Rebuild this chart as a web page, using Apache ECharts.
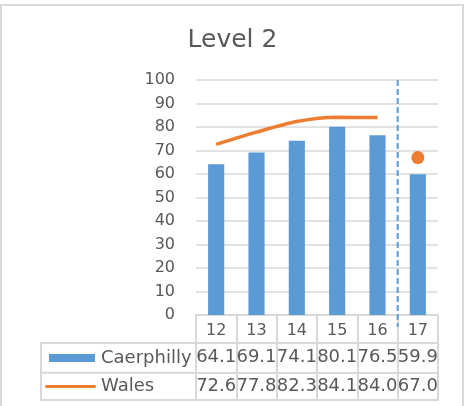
<!DOCTYPE html>
<html>
<head>
<meta charset="utf-8">
<script src="https://cdn.jsdelivr.net/npm/echarts@6/dist/echarts.min.js"></script>
<style>
  html, body { margin: 0; padding: 0; background: #fff; }
  #chart { width: 465px; height: 406px; }
</style>
</head>
<body>
<div id="chart"></div>
<script>
/* 数据 */
const years = ['12', '13', '14', '15', '16', '17']
const caerphilly = [64.1, 69.1, 74.1, 80.1, 76.5, 59.9]
const wales = [72.6, 77.8, 82.3, 84.1, 84.0, 67.0]
const yTicks = [0, 10, 20, 30, 40, 50, 60, 70, 80, 90, 100]
const forecastStart = 5 // 虚线位置：第5个类目之后

const textColor = '#595959'
const borderColor = '#D9D9D9'
const blue = '#5B9BD5'
const orange = '#ED7D31'
const font = 'DejaVu Sans'

// 实线部分与单独的点
const walesLine = wales.map((v, i) => (i < forecastStart ? v : '-'))
const walesDot = wales.map((v, i) => (i >= forecastStart ? v : '-'))

// 表格行用的轴
function tableAxis(data, offset, tickLen, showLabel) {
  return {
    type: 'category',
    data: data,
    position: 'bottom',
    offset: offset,
    axisLine: { show: true, lineStyle: { color: borderColor, width: 2 } },
    axisTick: { show: tickLen > 0, interval: 0, length: tickLen, lineStyle: { color: borderColor, width: 2 } },
    axisLabel: { show: showLabel, interval: 0, color: textColor, fontSize: 18, fontFamily: font, margin: 5 },
    splitLine: { show: false }
  }
}

const chart = echarts.init(document.getElementById('chart'))
chart.setOption({
  animation: false,
  title: {
    text: 'Level 2',
    left: 'center',
    top: 23,
    textStyle: { color: textColor, fontSize: 25, fontWeight: 'normal', fontFamily: font }
  },
  legend: {
    orient: 'vertical',
    left: 45,
    top: 348,
    padding: 0,
    itemWidth: 51,
    itemHeight: 10,
    itemGap: 8.5,
    textStyle: { color: textColor, fontSize: 18, fontFamily: font, lineHeight: 20 },
    data: [
      { name: 'Caerphilly', icon: 'path://M0,0 M51,10 M4,1 h46 v8 h-46 z' },
      { name: 'Wales', icon: 'path://M0,0 M51,10 M1.5,3.5 h48 a1.5,1.5 0 0 1 0,3 h-48 a1.5,1.5 0 0 1 0,-3 z' }
    ]
  },
  grid: { left: 196, right: 27, top: 80, bottom: 91 },
  xAxis: [
    {
      type: 'category',
      data: years,
      axisLine: { show: true, lineStyle: { color: borderColor, width: 2 } },
      axisTick: { show: true, interval: 0, length: 27, lineStyle: { color: borderColor, width: 2 } },
      axisLabel: { interval: 0, color: textColor, fontSize: 16, fontFamily: font, margin: 8 }
    },
    tableAxis(caerphilly.map(v => v.toFixed(1)), 28, 29.5, true),
    tableAxis(wales.map(v => v.toFixed(1)), 57.7, 27.5, true),
    tableAxis(years, 85, 0, false),
    { type: 'value', min: 0, max: years.length, show: false }
  ],
  yAxis: {
    type: 'value',
    min: yTicks[0],
    max: yTicks[yTicks.length - 1],
    interval: 10,
    axisLine: { show: false },
    axisTick: { show: false },
    axisLabel: { color: textColor, fontSize: 16, fontFamily: font, margin: 21 },
    splitLine: { lineStyle: { color: borderColor, width: 1.5 } }
  },
  graphic: [
    // 外框
    { type: 'rect', shape: { x: 1, y: 5, width: 462, height: 420 }, style: { fill: 'none', stroke: borderColor, lineWidth: 2 }, silent: true },
    // 图例列
    { type: 'rect', shape: { x: 41, y: 343, width: 155, height: 57 }, style: { fill: 'none', stroke: borderColor, lineWidth: 2 }, silent: true },
    { type: 'line', shape: { x1: 41, y1: 372.7, x2: 196, y2: 372.7 }, style: { stroke: borderColor, lineWidth: 2 }, silent: true }
  ],
  series: [
    {
      name: 'Caerphilly',
      type: 'bar',
      barWidth: '40%',
      itemStyle: { color: blue },
      data: caerphilly
    },
    {
      name: 'Wales',
      type: 'line',
      smooth: 0.25,
      symbol: 'none',
      lineStyle: { color: orange, width: 3.5 },
      itemStyle: { color: orange },
      data: walesLine
    },
    {
      name: 'Wales dot',
      type: 'scatter',
      symbolSize: 13,
      itemStyle: { color: orange, opacity: 1 },
      data: walesDot
    },
    {
      name: 'divider',
      type: 'line',
      xAxisIndex: 4,
      clip: false,
      silent: true,
      symbol: 'none',
      lineStyle: { color: blue, width: 2, type: [6, 3] },
      data: [[forecastStart, yTicks[yTicks.length - 1]], [forecastStart, -5]]
    }
  ]
})
</script>
</body>
</html>
